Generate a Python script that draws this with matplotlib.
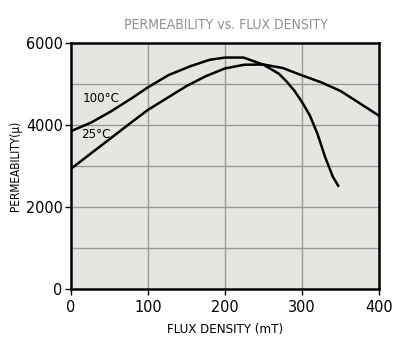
import matplotlib
matplotlib.use("Agg")
import matplotlib.pyplot as plt
from matplotlib import font_manager

## values
flux_100 = [0, 26, 52, 78, 100, 127, 156, 180, 200, 224, 250, 260, 270, 280, 290, 300, 310, 320, 330, 340, 347]
perm_100 = [3850, 4058, 4333, 4642, 4920, 5220, 5440, 5590, 5645, 5645, 5470, 5360, 5250, 5060, 4840, 4560, 4240, 3790, 3220, 2740, 2520]

flux_25 = [0, 26, 52, 78, 100, 127, 150, 175, 200, 225, 250, 275, 300, 325, 350, 375, 400]
perm_25 = [2933, 3308, 3683, 4058, 4370, 4683, 4950, 5190, 5380, 5470, 5475, 5390, 5210, 5040, 4830, 4530, 4225]

x_ticks = [0, 100, 200, 300, 400]
y_ticks = [0, 2000, 4000, 6000]

## narrow font if there is one
names = set(f.name for f in font_manager.fontManager.ttflist)
fam = 'DejaVu Sans'
stretch = 'condensed'
if 'Liberation Sans Narrow' in names:
    fam = 'Liberation Sans Narrow'
    stretch = 'normal'
plt.rcParams['font.family'] = [fam, 'DejaVu Sans']
plt.rcParams['font.stretch'] = stretch
txt = dict(family=[fam, 'DejaVu Sans'], stretch=stretch)

fig = plt.figure(figsize=(4, 3.45), dpi=100)
ax = fig.add_axes([71 / 400, 1 - 289 / 345, 308 / 400, 246 / 345])
ax.set_facecolor('#e5e5e1')

## grid lines every 100 mT and every 1000
for gx in [100, 200, 300]:
    ax.axvline(gx, color='#9a9a98', lw=1, zorder=1)
for gy in [1000, 2000, 3000, 4000, 5000]:
    ax.axhline(gy, color='#9a9a98', lw=1, zorder=1)

ax.plot(flux_100, perm_100, color='black', lw=1.8, zorder=3)
ax.plot(flux_25, perm_25, color='black', lw=1.8, zorder=3)

ax.text(15, 4650, '100°C', fontsize=9.5, va='center', ha='left', **txt)
ax.text(13, 3780, '25°C', fontsize=9.5, va='center', ha='left', **txt)

ax.set_xlim(0, 400)
ax.set_ylim(0, 6000)
ax.set_xticks(x_ticks, labels=[str(v) for v in x_ticks], fontsize=11.5, **txt)
ax.set_yticks(y_ticks, labels=[str(v) for v in y_ticks], fontsize=11.5, **txt)
ax.tick_params(direction='out', length=4, width=1)
ax.tick_params(axis='x', pad=4)
ax.tick_params(axis='y', pad=2)
for s in ax.spines.values():
    s.set_linewidth(1.8)
    s.set_zorder(4)

ax.set_xlabel('FLUX DENSITY (mT)', fontsize=9.5, labelpad=6, **txt)
ax.set_ylabel('PERMEABILITY(μ)', fontsize=8.5, labelpad=3, **txt)
fig.text(226 / 400, 1 - 25 / 345, 'PERMEABILITY vs. FLUX DENSITY', color='#8d908c',
         fontsize=10, ha='center', va='center', **txt)

fig.savefig('out.png', dpi=100, facecolor='white')
